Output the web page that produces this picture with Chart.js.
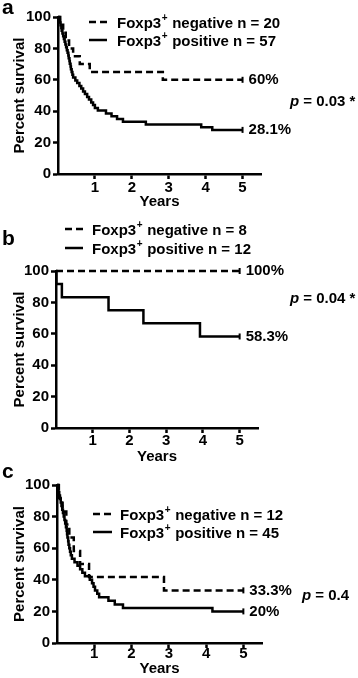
<!DOCTYPE html>
<html lang="en">
<head>
  <meta charset="UTF-8" />
  <title>Foxp3 survival curves</title>
  <style>
    body { margin: 0; background: #fff; }
    #wrap { position: relative; width: 358px; height: 678px; overflow: hidden; }
    canvas { position: absolute; left: 0; }
  </style>
</head>
<body>
  <div id="wrap">
    <canvas id="chart-a" width="358" height="215" style="top:0"></canvas>
    <canvas id="chart-b" width="358" height="255" style="top:215px"></canvas>
    <canvas id="chart-c" width="358" height="213" style="top:465px"></canvas>
  </div>

  <script src="https://cdn.jsdelivr.net/npm/chart.js"></script>
  <script>
    // Shared axis ticks (years / percent survival)
    const xTicks = [1, 2, 3, 4, 5];
    const yTicks = [0, 20, 40, 60, 80, 100];

    // Panel a: Foxp3+ negative (n = 20) vs positive (n = 57)
    const aNegTimes = [0, 0.06, 0.14, 0.21, 0.30, 0.41, 0.59, 0.86, 2.84, 5];
    const aNegSurv = [100, 95, 90, 85, 80, 75, 70, 65, 60, 60];
    const aPosTimes = [0, 0.03, 0.05, 0.07, 0.09, 0.10, 0.12, 0.14, 0.16, 0.18, 0.20, 0.22, 0.24, 0.26, 0.28,
      0.29, 0.31, 0.32, 0.34, 0.35, 0.37, 0.39, 0.41, 0.47, 0.52, 0.58, 0.63, 0.68, 0.73, 0.79, 0.84, 0.90,
      0.95, 1.00, 1.08, 1.30, 1.45, 1.60, 1.76, 2.38, 3.88, 4.18, 5];
    const aPosSurv = [100, 98.2, 96.5, 94.7, 93.0, 91.2, 89.5, 87.7, 86.0, 84.2, 82.5, 80.7, 78.9, 77.2, 75.4,
      73.7, 71.9, 70.2, 68.4, 66.7, 64.9, 63.2, 61.4, 59.6, 57.9, 56.1, 54.4, 52.6, 50.9, 49.1, 47.4, 45.6,
      43.9, 42.1, 40.4, 38.6, 36.8, 35.1, 33.3, 31.6, 29.8, 28.1, 28.1];
    const aLegend = ['negative n = 20', 'positive n = 57'];
    const aEndLabels = ['60%', '28.1%'];
    const aPValue = '= 0.03 *';

    // Panel b: negative (n = 8) vs positive (n = 12)
    const bNegTimes = [0, 5];
    const bNegSurv = [100, 100];
    const bPosTimes = [0, 0.01, 0.16, 1.43, 2.38, 3.92, 5];
    const bPosSurv = [100, 91.7, 83.3, 75, 66.7, 58.3, 58.3];
    const bLegend = ['negative n = 8', 'positive n = 12'];
    const bEndLabels = ['100%', '58.3%'];
    const bPValue = '= 0.04 *';

    // Panel c: negative (n = 12) vs positive (n = 45)
    const cNegTimes = [0, 0.05, 0.15, 0.25, 0.33, 0.45, 0.62, 0.86, 2.87, 5];
    const cNegSurv = [100, 91.7, 83.3, 75, 66.7, 58.3, 50, 41.7, 33.3, 33.3];
    const cPosTimes = [0, 0.02, 0.04, 0.06, 0.08, 0.10, 0.12, 0.14, 0.16, 0.18, 0.20, 0.22, 0.24, 0.26, 0.27,
      0.28, 0.30, 0.31, 0.33, 0.35, 0.37, 0.40, 0.47, 0.55, 0.62, 0.68, 0.75, 0.88, 0.94, 0.98, 1.02, 1.08,
      1.13, 1.38, 1.55, 1.77, 4.17, 5];
    const cPosSurv = [100, 97.8, 95.6, 93.3, 91.1, 88.9, 86.7, 84.4, 82.2, 80, 77.8, 75.6, 73.3, 71.1, 68.9,
      66.7, 64.4, 62.2, 60, 57.8, 55.6, 53.3, 51.1, 48.9, 46.7, 44.4, 42.2, 40, 37.8, 35.6, 33.3, 31.1,
      28.9, 26.7, 24.4, 22.2, 20, 20];
    const cLegend = ['negative n = 12', 'positive n = 45'];
    const cEndLabels = ['33.3%', '20%'];
    const cPValue = '= 0.4';

    const FONT = '"Liberation Sans", Arial, sans-serif';
    Chart.defaults.font.family = FONT;
    Chart.defaults.color = '#000';

    // Builds one KM step series; only the last point gets a censor tick.
    const series = (times, surv, dash) => ({
      data: times.map((t, i) => ({ x: t, y: surv[i] })),
      stepped: true,
      clip: false,
      borderColor: '#000',
      borderWidth: 2.5,
      borderDash: dash,
      borderCapStyle: 'butt',
      fill: false,
      pointStyle: 'line',
      rotation: 90,
      pointBorderColor: '#000',
      pointBorderWidth: 2,
      pointRadius: ctx => (ctx.dataIndex === times.length - 1 ? 3 : 0)
    });

    // Draws "Foxp3" with a superscript plus, then the rest of the label.
    const drawFoxp3 = (ctx, rest, x, y) => {
      ctx.font = `bold 15px ${FONT}`;
      ctx.fillText('Foxp3', x, y);
      x += ctx.measureText('Foxp3').width;
      ctx.font = `bold 10px ${FONT}`;
      ctx.fillText('+', x + 0.5, y - 6);
      x += ctx.measureText('+').width + 1;
      ctx.font = `bold 15px ${FONT}`;
      ctx.fillText(' ' + rest, x, y);
    };

    // Panel letter, legend, end-of-curve labels and p value.
    const textPlugin = (cfg) => ({
      id: 'panelText',
      afterDraw(chart) {
        const { ctx } = chart;
        const xs = chart.scales.x;
        const ys = chart.scales.y;
        ctx.save();
        ctx.fillStyle = '#000';
        ctx.strokeStyle = '#000';

        ctx.font = `bold 21px ${FONT}`;
        ctx.textBaseline = 'alphabetic';
        ctx.fillText(cfg.letter, cfg.letterX, cfg.letterY);

        ctx.textBaseline = 'middle';
        cfg.legend.forEach((label, i) => {
          const y = cfg.legendY[i];
          ctx.lineWidth = 2.5;
          ctx.setLineDash(i === 0 ? [7, 4] : []);
          ctx.beginPath();
          ctx.moveTo(cfg.legendLineX[0], y - 2);
          ctx.lineTo(cfg.legendLineX[1], y - 2);
          ctx.stroke();
          ctx.setLineDash([]);
          drawFoxp3(ctx, label, cfg.legendTextX, y);
        });

        ctx.font = `bold 15px ${FONT}`;
        const lastX = xs.getPixelForValue(5) + 6;
        cfg.endLabels.forEach((label, i) => {
          const surv = i === 0 ? cfg.negSurv : cfg.posSurv;
          ctx.fillText(label, lastX, ys.getPixelForValue(surv[surv.length - 1]));
        });

        ctx.font = `italic bold 15px ${FONT}`;
        ctx.fillText('p', cfg.pX, cfg.pY);
        const pw = ctx.measureText('p ').width;
        ctx.font = `bold 15px ${FONT}`;
        ctx.fillText(cfg.pValue, cfg.pX + pw, cfg.pY);
        ctx.restore();
      }
    });

    const makePanel = (id, cfg) => {
      const canvas = document.getElementById(id);
      new Chart(canvas, {
        type: 'line',
        data: {
          datasets: [
            series(cfg.negTimes, cfg.negSurv, [7, 4]),
            series(cfg.posTimes, cfg.posSurv, [])
          ]
        },
        options: {
          responsive: false,
          animation: false,
          events: [],
          layout: { padding: { left: 0, right: 358 - cfg.right, top: cfg.top, bottom: 0 } },
          plugins: { legend: { display: false }, tooltip: { enabled: false } },
          scales: {
            x: {
              type: 'linear',
              min: 0,
              max: 5.5,
              afterBuildTicks: s => { s.ticks = xTicks.map(v => ({ value: v })); },
              afterFit: s => { s.height = canvas.height - cfg.bottom; },
              grid: { drawOnChartArea: false, tickLength: 5, tickWidth: 2.5, tickColor: '#000' },
              border: { display: true, color: '#000', width: 2.5 },
              ticks: { color: '#000', padding: cfg.xTickPad, maxRotation: 0, font: { size: 15, weight: 'bold' } },
              title: { display: true, text: 'Years', color: '#000', padding: { top: 0, bottom: cfg.xTitlePad },
                font: { size: 15, weight: 'bold' } }
            },
            y: {
              min: 0,
              max: 100,
              afterBuildTicks: s => { s.ticks = yTicks.map(v => ({ value: v })); },
              afterFit: s => { s.width = cfg.left; },
              grid: { drawOnChartArea: false, tickLength: 5, tickWidth: 2.5, tickColor: '#000' },
              border: { display: true, color: '#000', width: 2.5 },
              ticks: { color: '#000', padding: 2, font: { size: 15, weight: 'bold' } },
              title: { display: true, text: 'Percent survival', color: '#000', padding: { top: 11, bottom: 0 },
                font: { size: 15, weight: 'bold' } }
            }
          }
        },
        plugins: [textPlugin(cfg)]
      });
    };

    makePanel('chart-a', {
      negTimes: aNegTimes, negSurv: aNegSurv, posTimes: aPosTimes, posSurv: aPosSurv,
      legend: aLegend, endLabels: aEndLabels, pValue: aPValue,
      left: 58, right: 261, top: 17, bottom: 174, xTickPad: 0, xTitlePad: 4,
      letter: 'a', letterX: 2, letterY: 14,
      legendY: [24, 42], legendLineX: [89, 107], legendTextX: 117,
      pX: 290, pY: 102
    });

    makePanel('chart-b', {
      negTimes: bNegTimes, negSurv: bNegSurv, posTimes: bPosTimes, posSurv: bPosSurv,
      legend: bLegend, endLabels: bEndLabels, pValue: bPValue,
      left: 56, right: 258, top: 56, bottom: 213, xTickPad: -1, xTitlePad: 4,
      letter: 'b', letterX: 2, letterY: 30,
      legendY: [16, 35], legendLineX: [65, 83], legendTextX: 92,
      pX: 290, pY: 84
    });

    makePanel('chart-c', {
      negTimes: cNegTimes, negSurv: cNegSurv, posTimes: cPosTimes, posSurv: cPosSurv,
      legend: cLegend, endLabels: cEndLabels, pValue: cPValue,
      left: 57, right: 262, top: 20, bottom: 178, xTickPad: -3, xTitlePad: 0,
      letter: 'c', letterX: 2, letterY: 13,
      legendY: [51, 69], legendLineX: [93, 112], legendTextX: 120,
      pX: 302, pY: 131
    });
  </script>
</body>
</html>
